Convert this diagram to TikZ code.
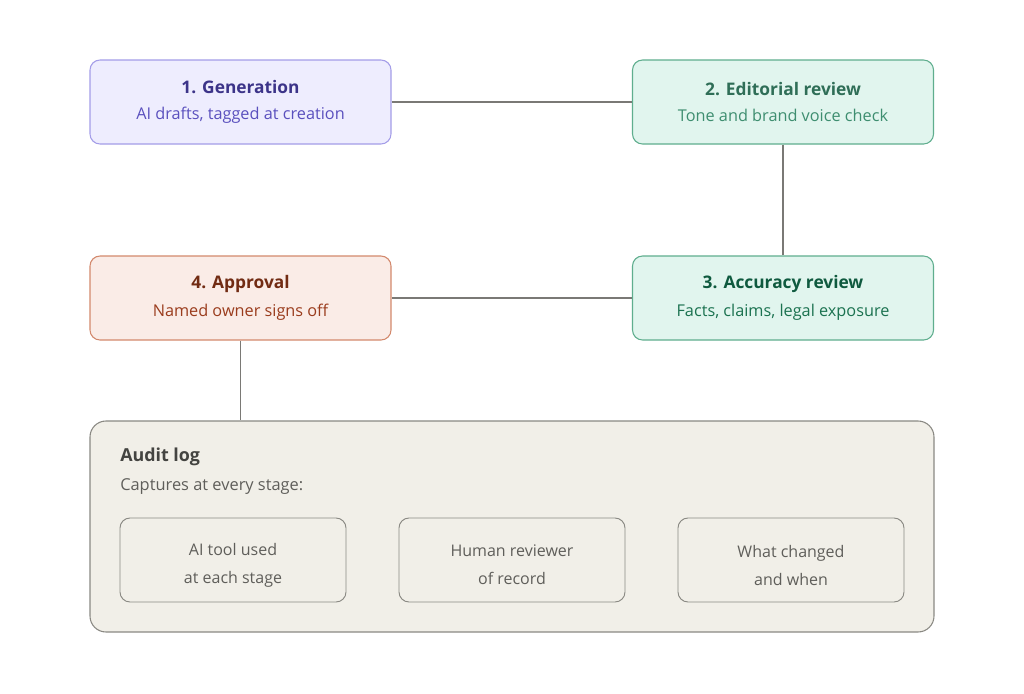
\documentclass[tikz,border=0pt]{standalone}
\usepackage{fontspec}
\setmainfont{Open Sans}
\usetikzlibrary{positioning}

\definecolor{genfill}{HTML}{EEEDFE}
\definecolor{genline}{HTML}{A49DE8}
\definecolor{gentitle}{HTML}{3C3489}
\definecolor{gensub}{HTML}{5A50BE}
\definecolor{edfill}{HTML}{E1F5EE}
\definecolor{edline}{HTML}{5FAE8E}
\definecolor{edtitle}{HTML}{2F6E57}
\definecolor{edsub}{HTML}{3E8E70}
\definecolor{acctitle}{HTML}{0F5A3F}
\definecolor{accsub}{HTML}{1B7250}
\definecolor{appfill}{HTML}{FAECE7}
\definecolor{appline}{HTML}{D3896D}
\definecolor{apptitle}{HTML}{712B13}
\definecolor{appsub}{HTML}{9A3C1D}
\definecolor{logfill}{HTML}{F1EFE8}
\definecolor{logline}{HTML}{8A8983}
\definecolor{logtitle}{HTML}{444441}
\definecolor{logtext}{HTML}{5F5E5A}
\definecolor{wire}{HTML}{7A7975}

\newcommand{\stagetext}[4]{{\fontsize{13}{16}\selectfont\bfseries\color{#1}#3}\\[8pt]{\fontsize{12.2}{14}\selectfont\color{#2}#4}}

\begin{document}
\begin{tikzpicture}[x=0.75pt,y=-0.75pt,
	stage/.style={rounded corners=7.5pt, line width=0.8pt, minimum width=225.75pt, minimum height=63pt, align=center, inner sep=0pt},
	item/.style={draw=logline, rounded corners=7.5pt, line width=0.7pt, minimum width=169.5pt, minimum height=63pt, inner sep=0pt},
	itemtext/.style={align=center, inner sep=0pt, text=logtext, font=\fontsize{12}{21}\selectfont},
	wireline/.style={draw=wire, line width=1.4pt}]
	\useasboundingbox[fill=white] (0,0) rectangle (1024,693);
	
	% audit log frame
	\node[draw=logline, fill=logfill, rounded corners=12pt, line width=0.8pt, minimum width=633pt, minimum height=158.25pt, inner sep=0pt] (log) at (512,526.5) {};
	\node[anchor=base west, inner sep=0pt, text=logtitle, font=\fontsize{13.4}{16}\selectfont\bfseries] (logtitle) at (120,461) {Audit log};
	\node[anchor=base west, inner sep=0pt, text=logtext, font=\fontsize{12.3}{14}\selectfont] (logsub) at (120,490) {Captures at every stage:};
	
	\node[item] (tool) at (233,560) {};
	\node[item] (reviewer) at (512,560) {};
	\node[item] (changes) at (791,560) {};
	\node[itemtext] (tooltext) at (233,565) {AI tool used\\at each stage};
	\node[itemtext] (reviewertext) at (512,565) {Human reviewer\\of record};
	\node[itemtext] (changestext) at (791,565) {What changed\\and when};
	
	% stages
	\node[stage, draw=genline, fill=genfill] (gen) at (240.5,102) {\stagetext{gentitle}{gensub}{1. Generation}{AI drafts, tagged at creation}};
	\node[stage, draw=edline, fill=edfill] (edit) at (783,102) {\stagetext{edtitle}{edsub}{2. Editorial review}{Tone and brand voice check}};
	\node[stage, draw=edline, fill=edfill] (acc) at (783,298) {\stagetext{acctitle}{accsub}{3. Accuracy review}{Facts, claims, legal exposure}};
	\node[stage, draw=appline, fill=appfill] (app) at (240.5,298) {\stagetext{apptitle}{appsub}{4. Approval}{Named owner signs off}};
	
	\draw[wireline] (gen) -- (edit);
	\draw[wireline] (edit) -- (acc);
	\draw[wireline] (acc) -- (app);
	\draw[wireline] (app) -- (log.north -| app.south);
	
\end{tikzpicture}
\end{document}
